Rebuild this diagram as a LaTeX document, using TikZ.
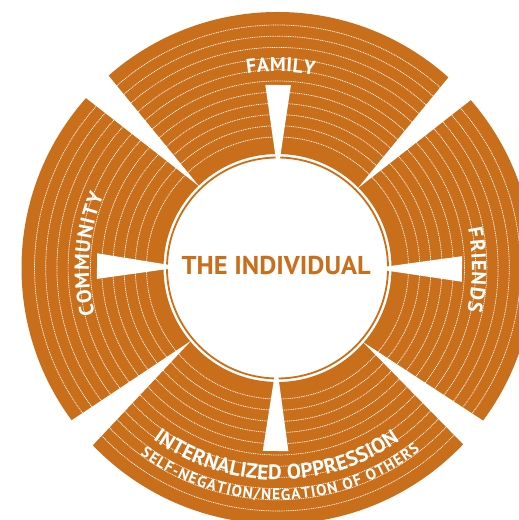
\documentclass[tikz,border=0pt]{standalone}
\usepackage{graphicx}
\usepackage{fontspec}
\newfontfamily\labfont{PT Sans}
\usetikzlibrary{decorations.text,calc}
\definecolor{ochre}{RGB}{201,111,27}
\newcommand\labA{\labfont\bfseries\fontsize{20.5}{22}\selectfont\color{white}}
\newcommand\labF{\labfont\bfseries\fontsize{20}{22}\selectfont\color{white}}
\newcommand\labB{\labfont\bfseries\fontsize{21}{23}\selectfont\color{white}}
\newcommand\labC{\labfont\bfseries\fontsize{15.5}{17}\selectfont\color{white}}
\begin{document}
\begin{tikzpicture}[x=1bp,y=1bp,
  ringline/.style={white, line width=0.7bp, dash pattern=on 1bp off 0.8bp},
  gapwedge/.style={fill=white, draw=none},
  marker/.style={fill=white, draw=none},
  arclabel/.style={decorate, decoration={text along path, text align={fit to path}, text={#1}}},
]
\useasboundingbox (0,0) rectangle (519,520);
\clip (0,0) rectangle (519,520);
\coordinate (C) at (277.5,252);
% orange band
\fill[ochre, even odd rule] (C) circle[radius=256] (C) circle[radius=114];
% dotted rings
\foreach \k in {0,...,10} \draw[ringline] (C) circle[radius={131+11.2*\k}];
% thin inner ring
\draw[ochre, line width=1.8bp] (C) circle[radius=110.5];
% gaps between sectors
\foreach \ga/\gb/\gm in {131.3/138.4/133.8, 41.0/48.1/44.8, 216.5/223.8/220.1, 316.5/323.4/319.1} {
  \coordinate (ap) at ($(C)+(\gm:113)$);
  \coordinate (p1) at ($(C)+(\ga:256)$);
  \coordinate (p2) at ($(C)+(\gb:256)$);
  \fill[gapwedge] (ap) -- ($(ap)!1.25!(p1)$) -- ($(ap)!1.25!(p2)$) -- cycle;
}
% inward markers
\foreach \ang/\rb in {89.8/183, 179.4/180.5, -0.3/184.5, 269.4/183} {
  \begin{scope}[shift={(C)}, rotate=\ang]
    \fill[marker] (107.5,-1.8) -- (\rb,-12.8) -- (\rb,12.8) -- (107.5,1.8) -- cycle;
  \end{scope}
}
% labels
\path[arclabel={|\labF|FAMILY}] ($(C)+(98.9:196.3)$) arc[start angle=98.9, end angle=79.2, radius=196.3];
\path[arclabel={|\labA|FRIENDS}] ($(C)+(11.6:194.5)$) arc[start angle=11.6, end angle=-12.7, radius=194.5];
\path[arclabel={|\labA|COMMUNITY}] ($(C)+(194.4:188.5)$) arc[start angle=194.4, end angle=157.2, radius=188.5];
\path[arclabel={|\labB|INTERNALIZED OPPRESSION}] ($(C)+(234:212)$) arc[start angle=234, end angle=305.2, radius=212];
\path[arclabel={|\labC|SELF-NEGATION/NEGATION OF OTHERS}] ($(C)+(233.7:232)$) arc[start angle=233.7, end angle=307.9, radius=232];
\node[text=ochre, inner sep=0pt] (indiv) at (276.2,254.2) {\resizebox{189bp}{18.3bp}{\labfont\bfseries THE INDIVIDUAL}};
\end{tikzpicture}
\end{document}
